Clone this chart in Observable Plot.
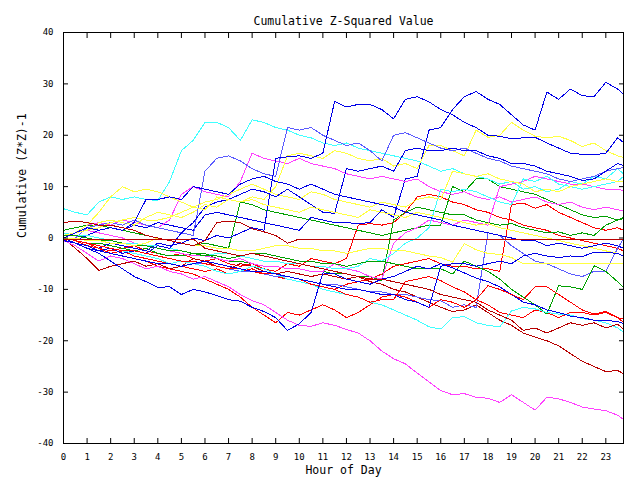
<!DOCTYPE html>
<html><head><meta charset="utf-8">
<script src="https://cdn.jsdelivr.net/npm/d3@7"></script>
<script src="https://cdn.jsdelivr.net/npm/@observablehq/plot@0.6"></script>
<style>body{margin:0;background:#fff} svg{display:block}</style>
</head><body><div id="chart"></div>
<script>
const hours = [0,0.5,1,1.5,2,2.5,3,3.5,4,4.5,5,5.5,6,6.5,7,7.5,8,8.5,9,9.5,10,10.5,11,11.5,12,12.5,13,13.5,14,14.5,15,15.5,16,16.5,17,17.5,18,18.5,19,19.5,20,20.5,21,21.5,22,22.5,23,23.5,23.75];
const xTicks = [0,1,2,3,4,5,6,7,8,9,10,11,12,13,14,15,16,17,18,19,20,21,22,23];
const yTicks = [-40,-30,-20,-10,0,10,20,30,40];

const BLUE = "#0000e8", LBLUE = "#5a5aff", CYAN = "#40ffff", YELLOW = "#ffff40",
      MAGENTA = "#ff40ff", GREEN = "#00a000", RED = "#ff0000", DRED = "#b80000";

const blueA = [0,-0.5,0.5,1.5,2,1.5,2.5,2,3,2.5,2,1.5,4.5,5,4.5,4,3.5,3,2.5,2,1.5,4,3.5,3,3,2.8,3,5.5,4,11.5,12,21,21.5,25,27.5,28.5,27,26,24,22,21,28.4,27,29,27.7,27.5,30.3,29,28];
const blueB = [-0.5,-1,-1.5,-2,-1,-1.5,-2,-2.5,-1,-1.5,-1,0,-0.5,0.5,0,1,2,1.5,15.5,15.8,16,15.5,16.5,26.6,25.5,26,26,25,23.2,27,27.5,26.5,25,24,22.5,21.5,20,19.8,19.3,19.5,19.6,18.5,17.5,16.5,16.3,16.2,16.5,19.5,18.6];
const yellow1 = [0.5,1,1.5,3,3.5,3,2.5,4,5,4.5,4,5,6.5,6,7.5,7,8,7.5,10,16,16.5,16,15.5,17,16.5,15.5,15,15.5,14,14.5,13.5,18,18,17,16,21,19.6,20,22.5,21,19.8,19.5,19.8,19,17.8,18.5,17,16,15.7];
const cyan1 = [5.7,5,4.5,7,8,7.5,8,7.5,7.3,11,17,19,22.5,22.5,21.5,19,23,22.5,21.5,21,20,19.5,18.5,18,18.5,17.5,17,16.5,16,15.5,15,14,13,13.5,12.5,12,11.5,10.5,11,9.5,10,9,9.5,11,10.5,12,11.5,13.5,12.5];
const lblue1 = [-0.5,0,2,2.5,3,2.5,3.5,2.5,2,1.5,1,0.5,13,15.5,16,15,13.5,12.5,12,21.5,21,21.5,20,19,18,18.5,17,15,20,20.5,19.5,18.5,17.5,17,17.5,16.5,15.5,15,14,13.5,13,12.5,11.5,11,11.5,12,13,13.5,13.7];
const magenta1 = [0,1,2.5,3,2.5,3.5,3,2.5,2,3.5,8.5,10,9,8.5,8,11,16.5,15.5,15,14.5,15.5,14.5,14,13.5,12.5,12,11.5,12,11.5,11,11.5,10,9,8.5,9,8,7.5,8,7,7.5,8,7,6.5,7,6,5.5,6,5.5,5.3];
const blueC = [0,-1,-1.5,-2.5,-2,-3,-2.5,-3,-1.5,-2,1,3,6,7,7.5,8.5,9.5,9,8,9.5,8,6.5,5,4.8,13.5,13,13.5,14,13,17,17.5,17,17,17.5,17,17,16,15.5,14.5,14.5,14,13,12.5,12,11.2,11.5,13,14.5,14.1];
const yellow2 = [0.5,1,1.5,2,3,3.5,4,3.5,3.5,4,5,6,7,7.5,8.5,9.5,10.5,9.5,8.5,8,7.5,9,8.5,7.5,7,6.5,6,7,6.5,6,7.5,8,7.5,13,12.5,12,12.5,11.5,11,10.5,9,9.5,9,10,10.5,11,11.5,11,11];
const cyan2 = [1,0.5,0.5,0,-0.5,-1,-1,-1.5,-1.5,-2,-2.5,-3,-3.5,-3,-3,-3.5,-4,-4.5,-4.5,-5,-5,-5.5,-5.5,-6,-6,-5.5,-4,-4.5,-3,-1,0,2,9.5,9,9.5,9,8,7,6.5,11.5,11,12,10.5,10,9.5,10,10.5,11,12];
const magenta3 = [0.5,1,1.5,1,0.5,0,-1,-1.5,-2,-2.5,-3,-3.5,-3.5,-4,-4.5,-4,-5,-5.5,-5.5,-6,-6,-6.5,-6.5,-5,-6,-6.5,-7.5,-8,-1,1,2,3.5,3,2.5,3.5,3,2.5,10,10.5,11,12,11.5,11,10.5,10.5,10,9.5,9.5,9.2];
const green1 = [1.5,2,2.5,2.5,2,1.5,1,0.5,0,-0.5,-1,-1.5,-1,-1.5,-2,7,6.5,5.5,5,4.5,4,3.5,3,2.5,2,1.5,1,0.5,1,1.5,2,2.5,2.5,10,9,11.5,11.5,10,9.5,9,8.5,7.5,6.5,5.5,4.5,4,4.2,3.5,3.8];
const green2 = [0,-0.5,-1,-1,-1.5,-2,-2.5,-2,-3,-3.5,-3.5,-3,-3,-4,-4.5,-4.5,-5,-5.5,-5.5,-6,-6,-6.5,-6.5,-7,-7,-7.5,-7.5,-8.3,3.5,5,6,5.5,5,4.5,4.5,3.5,3,2.5,2.8,2,1.5,1,1.2,0.5,1,0.5,2.5,3.5,4];
const red1 = [0,-0.5,-1,-2,-2.5,-2,-1.5,-2.5,-3,-3.5,-3,-4,-4.5,-4,-5,-5.5,-5,-6,-6.5,-5,-5.5,-4,-4.5,-5,-4,2.5,2.8,2.5,3,5,8,8.5,8,7,6.5,5.5,5,4,3.5,2.5,2,1.5,0.5,0,-0.5,-1,-1.5,-2,-2.5];
const red2 = [-0.5,-1,-1.5,-2,-3,-2.5,-3.5,-4,-4.5,-5,-5.5,-6,-6.5,-6,-7,-6.5,-6,-7,-7.5,-8,-8.5,-9,-9.5,-10,-9,-8.5,-8,-7,-5.5,-5,-4.5,-4,-5,-5.5,-5.5,-6,-6,-6.5,6.5,6.8,5.8,6.5,5,4,3,2,1.5,2,1.5];
const yellow3 = [0,1,2.5,5,8,10,9,9.5,9,8,7,6,5.5,8,7.5,7,7.5,6.5,6,5.5,5,6,5.5,5,4.5,4,5.5,5,4.5,4,5,4.5,4,3.5,3,2.5,2.8,2,1.5,1,0.5,0,-0.5,-1,-1.5,-2,-2.5,-3,-3.5];
const blueUp = [0,1,2,1.5,2,1.5,3,7.5,7.5,8,7.5,10,9.5,9,8.5,10.5,11.5,12,11,10.5,9.5,10.5,9.5,8.5,8,7.5,7,6.5,6,5,4.5,4,3.5,2.5,2,1.5,1,0.5,0,-0.5,-0.5,-1.5,-1,-1.5,-2,-1.5,-1,-1.5,-2];
const dred2 = [3,3.3,3,2.5,2.5,2,1.5,0.5,0,-0.5,-1,-1.5,-0.5,3,3.3,3,1.8,1.2,0.5,-1,-0.2,-0.2,-0.2,-0.2,-0.2,-0.2,-0.2,-0.2,-0.2,-0.2,-0.2,-0.2,-0.2,-0.2,-0.2,-0.2,-0.2,-0.2,-0.2,-0.2,-0.2,-0.2,-0.2,-0.2,-0.2,-0.2,-0.2,-0.2,-0.2];
const dred1 = [-0.2,-0.2,-0.2,-0.2,-0.2,-0.2,-0.2,-0.2,-0.2,-0.2,-0.2,-0.2,-2,-2.5,-3,-3.5,-3,-3.5,-4,-4.5,-5,-5.5,-6,-6.5,-7,-7.5,-8,-8,-8.5,-9,-9.5,-10,-11,-11.5,-12,-12.5,-14,-15,-16,-18,-17.5,-18.5,-17.5,-16.5,-17,-16.5,-17.5,-16.8,-17.7];
const dred3 = [0,-2,-4,-6.3,-5.5,-5,-4.5,-5.5,-5,-6,-5.5,-4,-4.5,-5.5,-6,-5,-5.5,-6.5,-7,-6.5,-7,-7.5,-7,-7.5,-8,-7.5,-8.5,-9,-10,-10.5,-11.5,-12.5,-13.5,-14.3,-14,-13,-14.5,-16,-17,-18.5,-19.3,-20,-21,-22.5,-24,-25,-26,-25.8,-26.4];
const magentaLow = [-0.5,-1.5,-3,-4.5,-3.5,-4,-5,-6,-5.5,-6.5,-7,-8,-7.5,-8.5,-9.5,-11,-12.2,-13,-14.5,-16,-17,-17.2,-16.5,-17,-17.8,-18.5,-20,-22,-23.5,-24.5,-26.3,-28,-29.7,-30.5,-30.3,-31,-31.2,-32,-30.5,-32,-33.5,-31,-31.3,-32,-32.9,-33.3,-33.6,-34.5,-35.3];
const cyanLow = [0,-0.5,-1,-1.5,-2,-2.5,-3,-3.5,-4,-5,-4.5,-5,-5.5,-6.5,-7,-6.5,-5.5,-6,-7,-8,-8.5,-9,-10,-10.5,-11,-11.5,-12.5,-13,-14,-15,-16,-17.3,-17.7,-15.5,-15.3,-16.5,-17,-17.3,-14.2,-13.5,-13.8,-14.5,-14.8,-15,-15.7,-16,-16.5,-17.5,-18.3];
const blueLow = [0,-1,-2,-3,-4.5,-6,-7.5,-8.5,-9.6,-9.5,-11,-10,-10.5,-11.2,-12,-12.3,-13.5,-14.3,-15.5,-18,-16.7,-14.5,-6.8,-7,-8,-8.5,-9,-8,-7.5,-6.5,-5.5,-6,-5,-5.8,-6.8,-7.8,-8.5,-9.5,-11,-12.5,-13,-14,-14.5,-15.2,-15.5,-16,-16,-16.3,-16.6];
const red6 = [0,-0.5,-1,-1.5,-2,-2.5,-2.5,-3,-3.5,-4,-4.5,-4.5,-5,-5.5,-6,-6,-6.5,-7,-7,-7.5,-8,-9,-9.5,-10,-11,-11.5,-12.5,-12,-12,-8.5,-8,-7.5,-8.3,-9.5,-10.5,-12,-9.3,-10,-11,-12,-9.5,-9.5,-11,-12.5,-14,-14.8,-14.3,-15.5,-16.4];
const green7 = [0.5,0.5,0,-0.5,-0.5,-1,-1.5,-1.5,-2,-2.5,-2.5,-3,-3.5,-3.5,-4,-3.5,-3,-3,-3.5,-4,-4.5,-4.5,-5,-5,-5.5,-5,-4.5,-4.5,-5,-5.5,-6,-6,-6,-7,-4.5,-5.5,-6.5,-8,-10,-11.5,-13,-14.8,-9.3,-9.5,-10,-5.4,-6.5,-8.5,-9.6];
const yellowFlat = [0,0,-0.5,-0.5,-1,-1,-1.5,-1,0,-0.5,-1,-1.5,-1.5,-2,-2,-2.5,-2.5,-2,-1.5,-1.5,-2,-2,-2.5,-2.5,-3,-2.5,-2,-2,-2.5,-2.5,-3,-3.5,-3.8,-4.7,-1.1,-2.3,-3,-3.2,-3.8,-5,-5,-5,-5,-5,-5,-5,-5,-5,-5];
const blueMid = [-0.5,-1,-2,-2.5,-3,-3.5,-4,-4.5,-5,-5,-5.5,-5,-4.5,-5,-5.5,-6,-6.5,-6.5,-7,-7.5,-8,-8.5,-9,-9.5,-10,-10,-10.5,-11,-11,-12,-12.5,-13.5,-5.5,-5,-5,-5.5,-5,-4.5,-5,-3.5,-3,-3.5,-3.8,-3.5,-3.6,-2.8,-2.8,-3,-3.5];
const lblue2 = [0,-0.5,-1,-1.5,-2,-2.5,-2.5,-3,-3.5,-4,-4.5,-5,-5,-5.5,-6,-6.5,-6.5,-7,-7.5,-7.5,-8,-8.5,-9,-9,-9.5,-10,-10.5,-10.5,-11,-11,-11.5,-12,-12.2,-13.5,-13,-13.5,1,0.5,-1.5,-3,-4.5,-5,-6,-7,-7.5,-6.5,-6.5,-2,-0.2];
const red3 = [0,-0.5,-1.5,-2,-3,-3.5,-4,-4.5,-5.5,-6,-6.5,-7,-8,-9,-10,-11.5,-13.5,-15,-16.5,-14.5,-15,-14,-13,-14,-15.5,-14.5,-13,-11.5,-11,-11.5,-12.5,-13.5,-12,-12.5,-13.5,-12,-13,-14.5,-15,-15.5,-14,-14.5,-15.5,-14.5,-14.5,-15,-14.5,-15.5,-15.8];

const series = [
  {color: RED, values: red1}, {color: GREEN, values: green1}, {color: BLUE, values: blueA},
  {color: MAGENTA, values: magenta1}, {color: CYAN, values: cyan1}, {color: DRED, values: dred3},
  {color: YELLOW, values: yellow1}, {color: LBLUE, values: lblue1}, {color: RED, values: red2},
  {color: GREEN, values: green2}, {color: BLUE, values: blueB}, {color: MAGENTA, values: magenta3},
  {color: CYAN, values: cyan2}, {color: YELLOW, values: yellow2}, {color: LBLUE, values: lblue2},
  {color: RED, values: red3}, {color: GREEN, values: green7}, {color: BLUE, values: blueC},
  {color: MAGENTA, values: magentaLow}, {color: CYAN, values: cyanLow}, {color: YELLOW, values: yellow3},
  {color: BLUE, values: blueLow}, {color: RED, values: red6}, {color: YELLOW, values: yellowFlat},
  {color: BLUE, values: blueMid}, {color: BLUE, values: blueUp},
  {color: DRED, values: dred1}, {color: DRED, values: dred2}
];

const rows = series.flatMap((s, i) => s.values.map((v, j) => ({id: i, hour: hours[j], value: v, color: s.color})));

const chart = Plot.plot({
  width: 640, height: 480,
  marginLeft: 63, marginRight: 17, marginTop: 32, marginBottom: 37,
  style: {fontFamily: "'DejaVu Sans Mono', monospace", fontSize: "9px", background: "#fff", color: "#000"},
  x: {domain: [0, 23.75]},
  y: {domain: [-40, 40]},
  color: {type: "identity"},
  marks: [
    Plot.line(rows, {x: "hour", y: "value", z: "id", stroke: "color", strokeWidth: 1, shapeRendering: "crispEdges"}),
    Plot.frame({stroke: "#000", strokeWidth: 1}),
    Plot.axisX(xTicks, {anchor: "bottom", tickSize: 0, tickPadding: 10, label: null, tickFormat: d => String(d)}),
    Plot.axisX(xTicks, {anchor: "bottom", tickSize: -5, tickFormat: () => "", label: null}),
    Plot.axisX(xTicks, {anchor: "top", tickSize: -5, tickFormat: () => "", label: null}),
    Plot.axisY(yTicks, {anchor: "left", tickSize: 0, tickPadding: 10, label: null, tickFormat: d => String(d)}),
    Plot.axisY(yTicks, {anchor: "left", tickSize: -5, tickFormat: () => "", label: null}),
    Plot.axisY(yTicks, {anchor: "right", tickSize: -5, tickFormat: () => "", label: null}),
    Plot.text(["Cumulative Z-Squared Value"], {frameAnchor: "top", dy: -16, fontSize: 11.5, text: d => d}),
    Plot.text(["Hour of Day"], {frameAnchor: "bottom", dy: 30, fontSize: 11.5, text: d => d}),
    Plot.text(["Cumulative (Z*Z)-1"], {frameAnchor: "left", dx: -41, rotate: -90, fontSize: 11.5, text: d => d})
  ]
});
document.getElementById("chart").appendChild(chart);
</script>
</body></html>
